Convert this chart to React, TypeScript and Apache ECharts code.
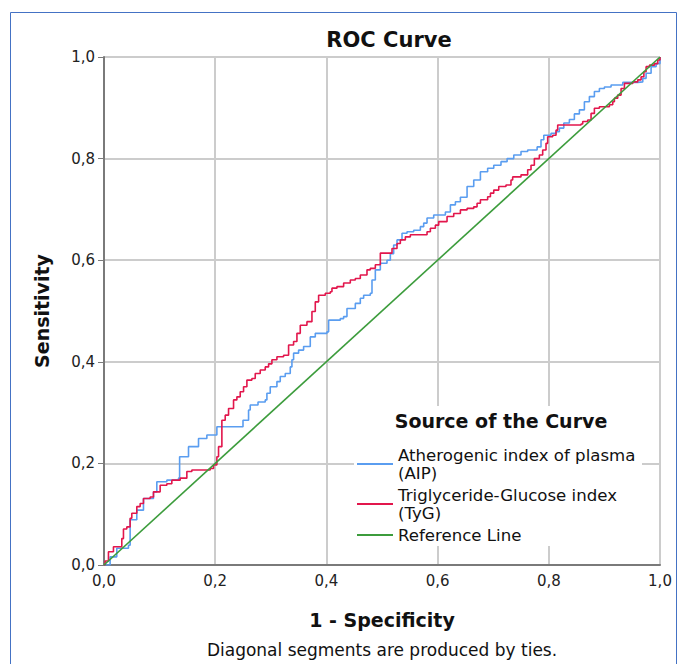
import React, { useEffect, useRef } from "react";
import * as echarts from "echarts";

const FONT = "'DejaVu Sans', 'Liberation Sans', Arial, sans-serif";

const chartTitle = "ROC Curve";
const xAxisName = "1 - Specificity";
const yAxisName = "Sensitivity";
const legendTitle = "Source of the Curve";
const footnote = "Diagonal segments are produced by ties.";
const seriesNames = ["Atherogenic index of plasma\n(AIP)", "Triglyceride-Glucose index\n(TyG)", "Reference Line"];
const seriesColors = ["#5A9DF0", "#E2164C", "#3C9C3C"];

// AIP curve: 1 - specificity / sensitivity
const aipFpr = [0, 0.011, 0.023, 0.044, 0.047, 0.059, 0.071, 0.089, 0.095, 0.113, 0.134, 0.136, 0.152, 0.17, 0.185, 0.203, 0.239, 0.25, 0.26, 0.263, 0.277, 0.29, 0.293, 0.299, 0.311, 0.317, 0.326, 0.335, 0.338, 0.341, 0.35, 0.359, 0.371, 0.38, 0.401, 0.404, 0.425, 0.431, 0.437, 0.452, 0.461, 0.467, 0.479, 0.482, 0.488, 0.497, 0.509, 0.515, 0.521, 0.527, 0.536, 0.545, 0.557, 0.569, 0.575, 0.581, 0.593, 0.605, 0.614, 0.623, 0.632, 0.641, 0.653, 0.665, 0.677, 0.69, 0.701, 0.714, 0.725, 0.737, 0.75, 0.762, 0.779, 0.786, 0.791, 0.804, 0.813, 0.819, 0.827, 0.837, 0.846, 0.855, 0.864, 0.873, 0.882, 0.891, 0.9, 0.912, 0.933, 0.96, 0.969, 0.975, 0.984, 0.993, 1];
const aipTpr = [0, 0.016, 0.033, 0.039, 0.089, 0.108, 0.131, 0.144, 0.164, 0.167, 0.171, 0.213, 0.233, 0.249, 0.256, 0.272, 0.272, 0.285, 0.305, 0.315, 0.321, 0.325, 0.338, 0.351, 0.361, 0.371, 0.377, 0.39, 0.404, 0.417, 0.423, 0.43, 0.449, 0.456, 0.459, 0.482, 0.485, 0.489, 0.505, 0.515, 0.525, 0.531, 0.535, 0.561, 0.581, 0.594, 0.6, 0.613, 0.63, 0.64, 0.653, 0.656, 0.659, 0.666, 0.673, 0.683, 0.689, 0.689, 0.695, 0.709, 0.715, 0.724, 0.745, 0.758, 0.774, 0.781, 0.787, 0.794, 0.8, 0.807, 0.814, 0.817, 0.823, 0.837, 0.846, 0.85, 0.853, 0.86, 0.87, 0.877, 0.888, 0.896, 0.912, 0.922, 0.932, 0.938, 0.941, 0.945, 0.95, 0.951, 0.958, 0.968, 0.981, 0.987, 1];

// TyG curve: 1 - specificity / sensitivity
const tygFpr = [0, 0.002, 0.008, 0.017, 0.029, 0.032, 0.035, 0.041, 0.047, 0.05, 0.059, 0.065, 0.071, 0.083, 0.089, 0.101, 0.113, 0.122, 0.137, 0.149, 0.158, 0.191, 0.197, 0.203, 0.206, 0.212, 0.212, 0.218, 0.224, 0.233, 0.239, 0.245, 0.251, 0.257, 0.266, 0.272, 0.281, 0.29, 0.296, 0.302, 0.311, 0.323, 0.332, 0.341, 0.347, 0.353, 0.365, 0.374, 0.38, 0.386, 0.398, 0.407, 0.41, 0.419, 0.431, 0.443, 0.452, 0.461, 0.473, 0.479, 0.488, 0.497, 0.509, 0.518, 0.527, 0.533, 0.542, 0.551, 0.575, 0.581, 0.587, 0.596, 0.602, 0.611, 0.617, 0.629, 0.641, 0.653, 0.665, 0.671, 0.677, 0.69, 0.695, 0.701, 0.71, 0.723, 0.732, 0.735, 0.75, 0.762, 0.768, 0.774, 0.783, 0.789, 0.795, 0.798, 0.807, 0.813, 0.816, 0.858, 0.861, 0.87, 0.876, 0.882, 0.891, 0.9, 0.909, 0.915, 0.918, 0.924, 0.93, 0.936, 0.951, 0.96, 0.966, 0.971, 0.975, 0.981, 0.99, 0.996, 1];
const tygTpr = [0, 0.008, 0.026, 0.036, 0.036, 0.052, 0.071, 0.075, 0.092, 0.102, 0.115, 0.121, 0.131, 0.134, 0.144, 0.157, 0.16, 0.167, 0.171, 0.184, 0.187, 0.19, 0.197, 0.213, 0.233, 0.236, 0.285, 0.295, 0.308, 0.325, 0.331, 0.341, 0.351, 0.364, 0.367, 0.377, 0.384, 0.39, 0.396, 0.404, 0.41, 0.413, 0.433, 0.44, 0.456, 0.472, 0.479, 0.499, 0.518, 0.531, 0.535, 0.538, 0.545, 0.548, 0.555, 0.561, 0.564, 0.571, 0.581, 0.584, 0.591, 0.614, 0.614, 0.623, 0.633, 0.64, 0.646, 0.65, 0.65, 0.656, 0.663, 0.669, 0.676, 0.676, 0.686, 0.692, 0.699, 0.702, 0.705, 0.712, 0.719, 0.725, 0.732, 0.738, 0.745, 0.748, 0.758, 0.764, 0.768, 0.778, 0.787, 0.8, 0.807, 0.817, 0.83, 0.843, 0.846, 0.856, 0.866, 0.868, 0.873, 0.876, 0.889, 0.899, 0.902, 0.902, 0.906, 0.912, 0.919, 0.925, 0.938, 0.948, 0.951, 0.955, 0.961, 0.971, 0.981, 0.984, 0.987, 0.994, 1];

// Reference diagonal
const refX = [0, 1];
const refY = [0, 1];

const zip = (xs: number[], ys: number[]) => xs.map((x, i) => [x, ys[i]]);
const fmt = (v: number) => v.toFixed(1).replace(".", ",");

export default function App() {
  const ref = useRef<HTMLDivElement>(null);
  useEffect(() => {
    const chart = echarts.init(ref.current!, null, { renderer: "svg" });
    const axisCommon = {
      type: "value" as const,
      min: 0,
      max: 1,
      interval: 0.2,
      nameLocation: "middle" as const,
      nameTextStyle: { fontFamily: FONT, fontSize: 19, fontWeight: "bold" as const, color: "#111" },
      axisLine: { show: true, lineStyle: { color: "#7a7a7a", width: 2 } },
      splitLine: { show: true, lineStyle: { color: "#cccccc", width: 2 } },
      axisLabel: { fontFamily: FONT, fontSize: 15, color: "#222", formatter: fmt },
    };
    chart.setOption({
      animation: false,
      backgroundColor: "#ffffff",
      grid: { left: 104, right: 20, top: 57, bottom: 99, containLabel: false },
      xAxis: {
        ...axisCommon,
        name: xAxisName,
        nameGap: 45,
        axisTick: { show: false },
        axisLabel: { ...axisCommon.axisLabel, margin: 8 },
      },
      yAxis: {
        ...axisCommon,
        name: yAxisName,
        nameGap: 53,
        axisTick: { show: true, length: 6, lineStyle: { color: "#7a7a7a", width: 1 } },
        axisLabel: { ...axisCommon.axisLabel, margin: 9 },
      },
      legend: {
        orient: "vertical",
        left: 357,
        top: 446,
        padding: 0,
        icon: "rect",
        itemWidth: 36,
        itemHeight: 2,
        itemGap: 4,
        selectedMode: false,
        z: 10,
        textStyle: { fontFamily: FONT, fontSize: 16.6, color: "#111", lineHeight: 18 },
        data: seriesNames,
      },
      graphic: [
        {
          type: "rect",
          z: 100,
          silent: true,
          shape: { x: 10.5, y: 12.5, width: 666, height: 720 },
          style: { fill: "none", stroke: "#4472C4", lineWidth: 1 },
        },
        {
          type: "rect",
          z: 3,
          silent: true,
          shape: { x: 354, y: 406, width: 288, height: 140 },
          style: { fill: "#ffffff" },
        },
        {
          type: "text",
          z: 10,
          x: 389,
          y: 40,
          style: { text: chartTitle, font: `bold 21px ${FONT}`, fill: "#111", textAlign: "center", textVerticalAlign: "middle" },
        },
        {
          type: "text",
          z: 10,
          x: 501,
          y: 421,
          style: { text: legendTitle, font: `bold 19px ${FONT}`, fill: "#111", textAlign: "center", textVerticalAlign: "middle" },
        },
        {
          type: "text",
          z: 10,
          x: 382,
          y: 650,
          style: { text: footnote, font: `17px ${FONT}`, fill: "#111", textAlign: "center", textVerticalAlign: "middle" },
        },
      ],
      series: [
        {
          type: "line",
          name: seriesNames[0],
          data: zip(aipFpr, aipTpr),
          step: "end",
          symbol: "none",
          lineStyle: { color: seriesColors[0], width: 1.6 },
          itemStyle: { color: seriesColors[0] },
        },
        {
          type: "line",
          name: seriesNames[1],
          data: zip(tygFpr, tygTpr),
          step: "end",
          symbol: "none",
          lineStyle: { color: seriesColors[1], width: 1.6 },
          itemStyle: { color: seriesColors[1] },
        },
        {
          type: "line",
          name: seriesNames[2],
          data: zip(refX, refY),
          symbol: "none",
          lineStyle: { color: seriesColors[2], width: 1.6 },
          itemStyle: { color: seriesColors[2] },
        },
      ],
    });
    return () => chart.dispose();
  }, []);
  return (
    <div
      ref={ref}
      style={{ position: "fixed", left: 0, top: 0, width: 680, height: 664, background: "#fff" }}
    />
  );
}
